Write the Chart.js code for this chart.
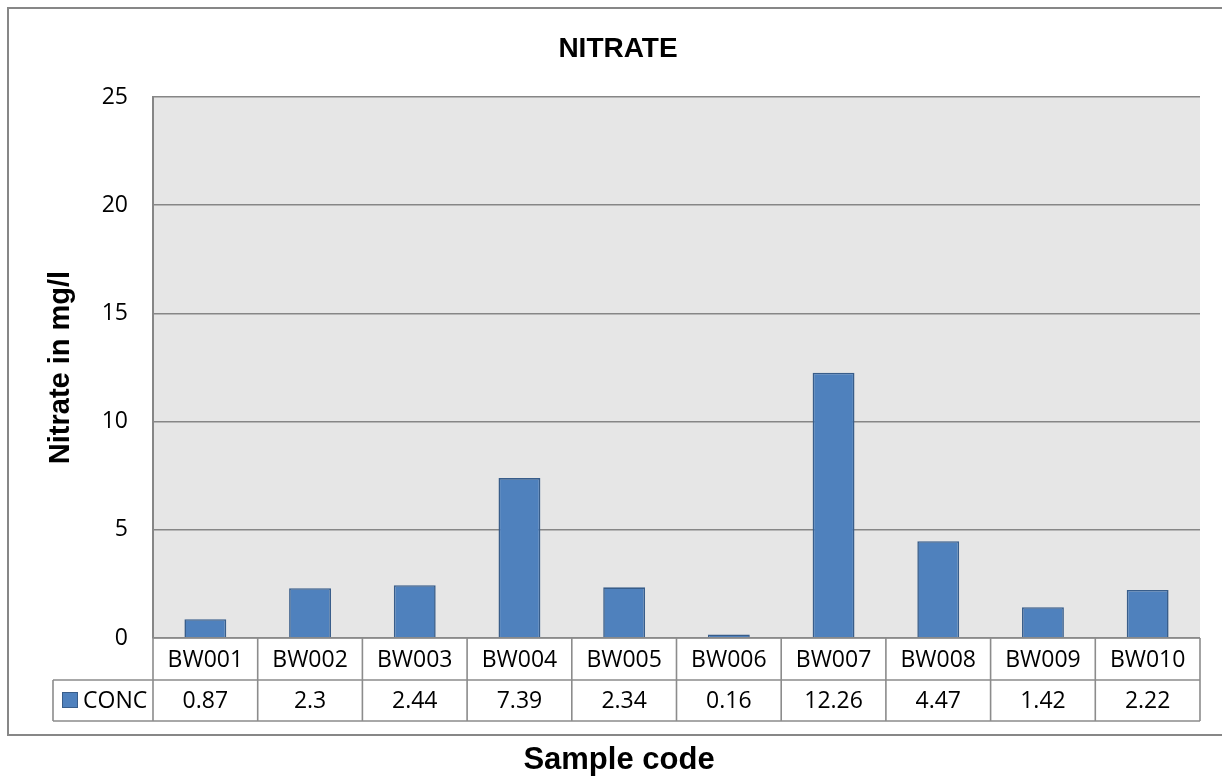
<!DOCTYPE html>
<html>
<head>
<meta charset="utf-8">
<script src="https://cdn.jsdelivr.net/npm/chart.js@4/dist/chart.umd.min.js"></script>
<style>
html,body{margin:0;padding:0;background:#fff}
#wrap{width:1222px;height:776px}
</style>
</head>
<body>
<div id="wrap"><canvas id="c" width="1222" height="776"></canvas></div>
<script>
const samples=['BW001','BW002','BW003','BW004','BW005','BW006','BW007','BW008','BW009','BW010'];
const conc=[0.87,2.3,2.44,7.39,2.34,0.16,12.26,4.47,1.42,2.22];
const concLabels=['0.87','2.3','2.44','7.39','2.34','0.16','12.26','4.47','1.42','2.22'];
const seriesName='CONC';
const yTicks=[0,5,10,15,20,25];

const FILL='#4f81bd',EDGE='#385d8a',LINE='#878787';
const tickFont="23px 'Open Sans'";

const decor={id:'decor',
  beforeDraw(chart){
    const{ctx,chartArea:{left,top,width,height}}=chart;
    ctx.save();
    ctx.fillStyle='#fff';ctx.fillRect(0,0,chart.width,chart.height);
    ctx.fillStyle='#e6e6e6';ctx.fillRect(left,top,width,height);
    ctx.restore();
  },
  afterDraw(chart){
    const{ctx,chartArea:{left,right,top,bottom},scales:{x}}=chart;
    const cw=(right-left)/samples.length;
    const r1=bottom,r2=bottom+42,r3=bottom+83,legL=53;
    ctx.save();
    // outer chart border
    ctx.strokeStyle=LINE;ctx.lineWidth=2;
    ctx.strokeRect(8,8,1240,727);
    // data table grid
    ctx.lineWidth=1.6;ctx.strokeStyle='#8c8c8c';
    ctx.beginPath();
    ctx.moveTo(left,r1);ctx.lineTo(right,r1);
    ctx.moveTo(legL,r2);ctx.lineTo(right,r2);
    ctx.moveTo(legL,r3);ctx.lineTo(right,r3);
    ctx.moveTo(legL,r2);ctx.lineTo(legL,r3);
    samples.forEach((s,i)=>{const xl=x.getPixelForValue(i)-cw/2;ctx.moveTo(xl,r1);ctx.lineTo(xl,r3);});
    ctx.moveTo(right,r1);ctx.lineTo(right,r3);
    ctx.stroke();
    ctx.fillStyle='#000';ctx.font=tickFont;ctx.textAlign='center';ctx.textBaseline='middle';
    samples.forEach((s,i)=>{
      const cx=x.getPixelForValue(i);
      ctx.fillText(s,cx,(r1+r2)/2+1);
      ctx.fillText(concLabels[i],cx,(r2+r3)/2+1);
    });
    // legend key
    ctx.fillStyle=FILL;ctx.fillRect(62,692,16,16);
    ctx.strokeStyle=EDGE;ctx.lineWidth=1;ctx.strokeRect(62.5,692.5,15,15);
    ctx.fillStyle='#000';ctx.textAlign='left';
    ctx.fillText(seriesName,83,(r2+r3)/2+1);
    // titles
    ctx.textAlign='center';
    ctx.font="bold 28px Arial, 'Liberation Sans'";
    ctx.fillText('NITRATE',618,49);
    ctx.font="bold 31px Arial, 'Liberation Sans'";
    ctx.fillText('Sample code',619,760);
    ctx.translate(61,(top+bottom)/2);ctx.rotate(-Math.PI/2);
    ctx.font="bold 29px Arial, 'Liberation Sans'";
    ctx.fillText('Nitrate in mg/l',0,0);
    ctx.restore();
  }
};

new Chart(document.getElementById('c'),{
  type:'bar',
  data:{labels:samples,datasets:[{label:seriesName,data:conc,backgroundColor:FILL,borderColor:EDGE,borderWidth:1.6,
    categoryPercentage:1,barPercentage:0.4}]},
  options:{responsive:false,animation:false,
    layout:{padding:{left:8,right:22,top:97,bottom:138}},
    plugins:{legend:{display:false},title:{display:false},tooltip:{enabled:false}},
    scales:{
      x:{display:false},
      y:{min:0,max:25,afterBuildTicks(s){s.ticks=yTicks.map(v=>({value:v}));},
        afterFit(s){s.width=145;},
        ticks:{color:'#000',font:{family:'Open Sans',size:23},padding:25},
        grid:{color:'#868686',lineWidth:1.5,drawTicks:false},
        border:{display:true,color:'#868686',width:2}}
    }
  },
  plugins:[decor]
});
</script>
</body>
</html>
